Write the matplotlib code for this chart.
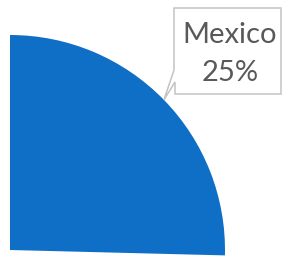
import numpy as np
import matplotlib
matplotlib.use("Agg")
import matplotlib.pyplot as plt
from matplotlib.patches import Polygon

# Data
labels = ["Mexico", "Other"]
values = [25.4, 74.6]
pct_labels = ["25%", ""]
colors = ["#0F6FC6", "none"]

W, H = 282, 258
R = 215.0          # pie radius in pixels
CX, CY = 10, 250   # pie centre in pixels (top-left origin)

fig = plt.figure(figsize=(W / 100, H / 100), dpi=100)
ax = fig.add_axes([0, 0, 1, 1])

wedges, _ = ax.pie(values, startangle=90, counterclock=False, colors=colors,
                   radius=1, center=(0, 0), wedgeprops=dict(linewidth=0))

ax.set_xlim(-CX / R, (W - CX) / R)
ax.set_ylim(-(H - CY) / R, CY / R)
ax.set_aspect("equal")
ax.axis("off")


def px(x, y):
    # pixel (top-left origin) -> data units
    return ((x - CX) / R, (CY - y) / R)


# callout tip on the middle of the Mexico slice
w = wedges[0]
mid = np.deg2rad((w.theta1 + w.theta2) / 2)
tip = (np.cos(mid), np.sin(mid))

box = [px(174, 8), px(281, 8), px(281, 94), px(175, 94), px(175, 82),
       tip, px(174, 70)]
ax.add_patch(Polygon(box, closed=True, facecolor="white", edgecolor="#C4C4C4",
                     linewidth=1.1, zorder=3))

tx = px(230, 43)
ax.text(tx[0], tx[1], labels[0], ha="center", va="baseline", fontsize=21,
        family="Lato", color="#595959", zorder=4)
tx = px(230, 81)
ax.text(tx[0], tx[1], pct_labels[0], ha="center", va="baseline", fontsize=21,
        family="Lato", color="#595959", zorder=4)

fig.savefig("out.png", dpi=100)
